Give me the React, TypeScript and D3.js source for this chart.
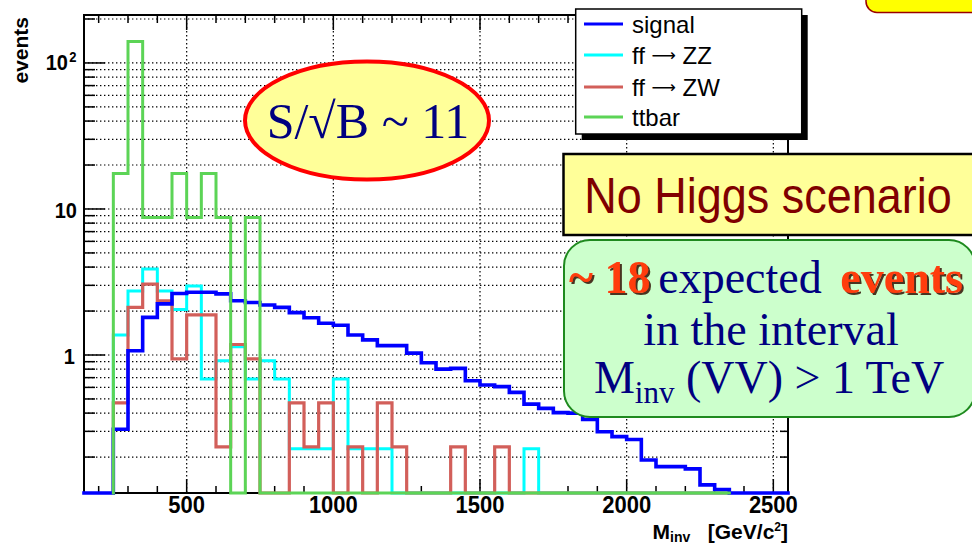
import React from 'react';
import * as d3 from 'd3';

// Invariant-mass histograms, 50 GeV bins
const BIN_WIDTH = 50;

// Signal: bins from 150 to 2550
const signalStart = 150;
const signal = [
  0, 0, 0.31, 1.07, 1.81, 2.24, 2.64, 2.69, 2.69, 2.62, 2.35, 2.29, 2.2, 2.12,
  1.95, 1.8, 1.65, 1.6, 1.37, 1.27, 1.16, 1.16, 1.03, 0.885, 0.8, 0.81, 0.667,
  0.623, 0.607, 0.555, 0.461, 0.431, 0.403, 0.4, 0.362, 0.298, 0.276, 0.264,
  0.191, 0.172, 0.172, 0.166, 0.129, 0.12, 0, 0, 0, 0,
];

// Backgrounds: bins from 250 to 2350
const bkgStart = 250;
const ffZZ = [
  1.37, 2.74, 3.88, 2.74, 2.05, 2.97, 0.685, 0.913, 1.14, 0.685, 0.913, 0.685,
  0.228, 0.228, 0.228, 0.685, 0.228, 0.228, 0.228,
  0, 0, 0, 0, 0, 0, 0, 0, 0,
  0.228,
  0, 0, 0, 0, 0, 0, 0, 0, 0, 0, 0, 0, 0,
];
const ffZW = [
  0.47, 2.12, 3.06, 2.35, 0.94, 1.88, 1.88, 0.235, 1.18, 0.94, 0, 0, 0.47,
  0.235, 0.47, 0, 0.235, 0, 0.47, 0.235,
  0, 0, 0,
  0.235,
  0, 0,
  0.235,
  0, 0, 0, 0, 0, 0, 0, 0, 0, 0, 0, 0, 0, 0, 0,
];
const ttbar = [
  17.5, 140, 8.75, 8.75, 17.5, 8.75, 17.5, 8.75, 0, 8.75,
  0, 0, 0, 0, 0, 0, 0, 0, 0, 0, 0, 0, 0, 0, 0, 0,
  0, 0, 0, 0, 0, 0, 0, 0, 0, 0, 0, 0, 0, 0, 0, 0,
];

const xMajorTicks = [500, 1000, 1500, 2000, 2500];
const xMinorTicks = d3.range(200, 2600, 100).filter((v) => v % 500 !== 0);
const legendLabels: [string, string][] = [
  ['signal', ''],
  ['ff ', 'ZZ'],
  ['ff ', 'ZW'],
  ['ttbar', ''],
];

const X_MIN = 150;
const X_MAX = 2550;
const Y_MIN = 0.1135;
const Y_MAX = 213;

const FRAME = { left: 84, right: 788, top: 15, bottom: 493 };

const x = d3.scaleLinear().domain([X_MIN, X_MAX]).range([FRAME.left, FRAME.right]);
const y = d3.scaleLog().domain([Y_MIN, Y_MAX]).range([FRAME.bottom, FRAME.top]);

const yTickValues: number[] = [];
[0.1, 1, 10, 100].forEach((d) => {
  for (let k = 1; k <= 9; k++) {
    const v = k * d;
    if (v > Y_MIN && v < Y_MAX) yTickValues.push(+v.toPrecision(3));
  }
});
const isMajorY = (v: number) => v === 1 || v === 10 || v === 100;

const yOf = (v: number) => (v <= Y_MIN ? FRAME.bottom : y(Math.min(v, Y_MAX)));

function stepPath(start: number, values: number[]): string {
  const pts: [number, number][] = [[x(start), FRAME.bottom]];
  values.forEach((v, i) => {
    const lo = start + i * BIN_WIDTH;
    const hi = lo + BIN_WIDTH;
    pts.push([x(lo), yOf(v)]);
    pts.push([x(hi), yOf(v)]);
  });
  pts.push([x(start + values.length * BIN_WIDTH), FRAME.bottom]);
  return d3.line()(pts) || '';
}

const series = [
  { name: 'ZZ', start: bkgStart, values: ffZZ, color: '#00ffff', width: 3 },
  { name: 'ZW', start: bkgStart, values: ffZW, color: '#d25f5a', width: 3.2 },
  { name: 'signal', start: signalStart, values: signal, color: '#0000ff', width: 3.6 },
  { name: 'ttbar', start: bkgStart, values: ttbar, color: '#5cd456', width: 3 },
];
const legendColors = ['#0000ff', '#00ffff', '#d25f5a', '#5cd456'];

const SANS = "'Liberation Sans', Arial, Helvetica, sans-serif";
const SERIF = "'Liberation Serif', 'Times New Roman', Times, serif";

function Stretched({ x0, y0, sy, children }: { x0: number; y0: number; sy: number; children: React.ReactNode }) {
  return <g transform={`translate(${x0},${y0}) scale(1,${sy})`}>{children}</g>;
}

export default function App() {
  const dots = '1.4 2.6';
  const legend = { x: 575.7, y: 9, w: 226, h: 125 };
  const legendRows = [24, 55, 87, 117];

  return (
    <svg
      width={972}
      height={548}
      viewBox="0 0 972 548"
      style={{ position: 'absolute', left: 0, top: 0, background: '#fff' }}
      fontFamily={SANS}
    >
      <defs>
        <clipPath id="frameClip">
          <rect x={FRAME.left - 2} y={FRAME.top} width={FRAME.right - FRAME.left + 4} height={FRAME.bottom - FRAME.top + 2} />
        </clipPath>
        <filter id="txtShadow" x="-10%" y="-20%" width="130%" height="150%">
          <feDropShadow dx={2} dy={2} stdDeviation={0.4} floodColor="#3a1a10" floodOpacity={0.9} />
        </filter>
      </defs>
      <rect width={972} height={548} fill="#fff" />

      {/* dotted grid */}
      <g stroke="#000" strokeWidth={1.2} strokeDasharray={dots} fill="none">
        {yTickValues.map((v) => (
          <line key={`gy${v}`} x1={FRAME.left} x2={FRAME.right} y1={y(v)} y2={y(v)} />
        ))}
        {xMajorTicks.map((v) => (
          <line key={`gx${v}`} x1={x(v)} x2={x(v)} y1={FRAME.top} y2={FRAME.bottom} />
        ))}
      </g>

      {/* ticks */}
      <g stroke="#000" strokeWidth={1.5}>
        {yTickValues.map((v) => (
          <g key={`ty${v}`}>
            <line x1={FRAME.left} x2={FRAME.left + (isMajorY(v) ? 21 : 11)} y1={y(v)} y2={y(v)} />
            <line x1={FRAME.right} x2={FRAME.right - (isMajorY(v) ? 15 : 8)} y1={y(v)} y2={y(v)} />
          </g>
        ))}
        {xMajorTicks.map((v) => (
          <g key={`tx${v}`}>
            <line x1={x(v)} x2={x(v)} y1={FRAME.bottom} y2={FRAME.bottom - 14} />
            <line x1={x(v)} x2={x(v)} y1={FRAME.top} y2={FRAME.top + 15} />
          </g>
        ))}
        {xMinorTicks.map((v) => (
          <g key={`tm${v}`}>
            <line x1={x(v)} x2={x(v)} y1={FRAME.bottom} y2={FRAME.bottom - 7} />
            <line x1={x(v)} x2={x(v)} y1={FRAME.top} y2={FRAME.top + 8} />
          </g>
        ))}
      </g>

      {/* frame */}
      <rect
        x={FRAME.left}
        y={FRAME.top}
        width={FRAME.right - FRAME.left}
        height={FRAME.bottom - FRAME.top}
        fill="none"
        stroke="#000"
        strokeWidth={2}
      />

      {/* histograms */}
      <g clipPath="url(#frameClip)" fill="none" strokeLinejoin="miter" strokeLinecap="square">
        {series.map((s) => (
          <path key={s.name} d={stepPath(s.start, s.values)} stroke={s.color} strokeWidth={s.width} />
        ))}
      </g>

      {/* y tick labels */}
      <g fontWeight="bold" fontSize={20} textAnchor="end" fill="#000">
        <Stretched x0={68} y0={y(100) + 7.5} sy={1.1}>
          <text x={0} y={0}>10</text>
        </Stretched>
        <Stretched x0={76.5} y0={y(100) - 1} sy={1.1}>
          <text x={0} y={0} fontSize={13}>2</text>
        </Stretched>
        <Stretched x0={77} y0={y(10) + 9.5} sy={1.1}>
          <text x={0} y={0}>10</text>
        </Stretched>
        <Stretched x0={75} y0={y(1) + 9} sy={1.1}>
          <text x={0} y={0}>1</text>
        </Stretched>
      </g>

      {/* x tick labels */}
      <g fontWeight="bold" fontSize={22} textAnchor="middle" fill="#000">
        {xMajorTicks.map((v) => (
          <Stretched key={`lx${v}`} x0={x(v)} y0={512.5} sy={1.08}>
            <text x={0} y={0}>{v}</text>
          </Stretched>
        ))}
      </g>

      {/* axis titles */}
      <text x={788} y={539} textAnchor="end" fontWeight="bold" fontSize={21} fill="#000">
        M<tspan fontSize={14} dy={3}>inv</tspan>
        <tspan dy={-3}>{'\u00a0\u00a0\u00a0[GeV/c'}</tspan>
        <tspan fontSize={12} dy={-8}>2</tspan>
        <tspan dy={8}>]</tspan>
      </text>
      <text
        transform="translate(28,17) rotate(-90)"
        textAnchor="end"
        fontWeight="bold"
        fontSize={21}
        fill="#000"
      >
        events
      </text>

      {/* S/sqrt(B) ellipse */}
      <ellipse cx={367} cy={120.5} rx={122} ry={59} fill="#ffff99" stroke="#ff0000" strokeWidth={4} />
      <text x={368} y={138} textAnchor="middle" fontFamily={SERIF} fontSize={50} fill="#000080">
        S/{'\u221a'}B ~ 11
      </text>

      {/* legend */}
      <rect x={legend.x + 6} y={legend.y + 6} width={legend.w} height={legend.h} fill="#000" />
      <rect x={legend.x} y={legend.y} width={legend.w} height={legend.h} fill="#fff" stroke="#000" strokeWidth={1.5} />
      {legendLabels.map(([head, tail], i) => (
        <g key={head + tail}>
          <line x1={584} x2={623} y1={legendRows[i]} y2={legendRows[i]} stroke={legendColors[i]} strokeWidth={3.2} />
          <text x={632} y={legendRows[i] + 8.5} fontSize={24} fill="#000">
            {head}
            {tail && (
              <>
                <tspan fontFamily="'DejaVu Sans', sans-serif" fontSize={17} dy={-3}>
                  {'\u27f6'}
                </tspan>
                <tspan dy={3}>{' ' + tail}</tspan>
              </>
            )}
          </text>
        </g>
      ))}

      {/* scenario box */}
      <rect x={563.5} y={154} width={412} height={81} fill="#ffff99" stroke="#000" strokeWidth={2.5} />
      <Stretched x0={768} y0={213} sy={1.12}>
        <text x={0} y={0} textAnchor="middle" fontSize={45} fill="#800000">
          No Higgs scenario
        </text>
      </Stretched>

      {/* expected events box */}
      <rect x={564} y={240} width={411} height={177} rx={26} ry={26} fill="#ccffcc" stroke="#1e8a1e" strokeWidth={2} />
      <g fontFamily={SERIF} fontSize={46}>
        <text x={569} y={293} fontWeight="bold" fill="#ff3c0a" filter="url(#txtShadow)">
          ~ 18
        </text>
        <text x={740} y={293} textAnchor="middle" fill="#000080">
          expected
        </text>
        <text x={963} y={293} textAnchor="end" fontWeight="bold" fill="#ff3c0a" filter="url(#txtShadow)">
          events
        </text>
        <text x={771} y={345} textAnchor="middle" fill="#000080">
          in the interval
        </text>
        <text x={769} y={393} textAnchor="middle" fill="#000080">
          M<tspan fontSize={31} dy={10}>inv</tspan>
          <tspan dy={-10}> (VV) &gt; 1 TeV</tspan>
        </text>
      </g>

      {/* corner note box */}
      <rect x={866} y={-22} width={130} height={34.5} rx={11} ry={11} fill="#ffff00" stroke="#990000" strokeWidth={1.5} />
    </svg>
  );
}
